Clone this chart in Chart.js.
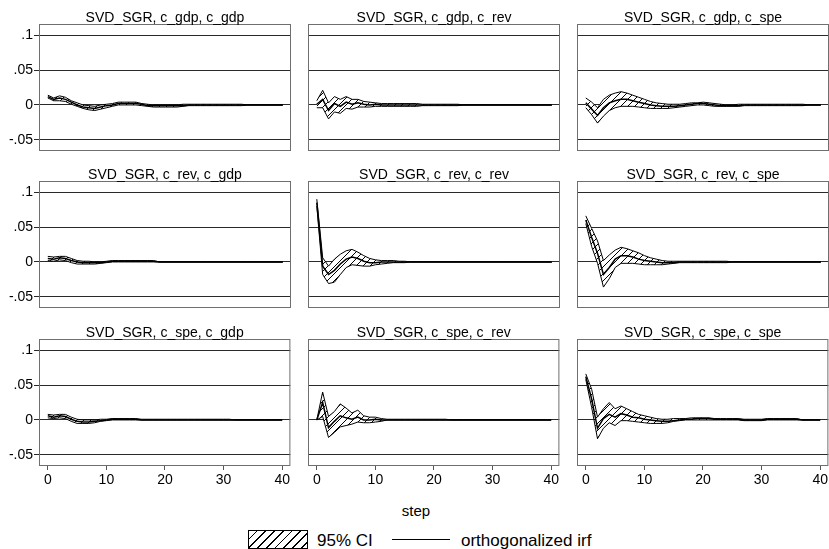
<!DOCTYPE html>
<html>
<head>
<meta charset="utf-8">
<title>SVD_SGR impulse responses</title>
<script src="https://cdn.jsdelivr.net/npm/chart.js@4.4.1/dist/chart.umd.min.js"></script>
<style>
  html, body { margin: 0; padding: 0; background: #fff; }
  body { position: relative; width: 829px; height: 549px; overflow: hidden; font-family: 'Liberation Sans', Arial, sans-serif; color: #000; }
  canvas.panel { position: absolute; }
  .txt { position: absolute; white-space: nowrap; line-height: 1; }
  #stepTitle { left: 416px; top: 503px; font-size: 15px; transform: translateX(-50%); }
  #ciSwatch { position: absolute; left: 248px; top: 530px; width: 58px; height: 17px; border: 1px solid #000;
              background: repeating-linear-gradient(135deg, #fff 0px, #fff 5px, #000 5px, #000 6.2px); }
  #ciLabel { left: 317px; top: 532px; font-size: 17px; }
  #irfLine { position: absolute; left: 392px; top: 539px; width: 58px; border-top: 1.5px solid #000; }
  #irfLabel { left: 461px; top: 532px; font-size: 17px; }
</style>
</head>
<body>
<div id="stepTitle" class="txt">step</div>
<div id="ciSwatch"></div>
<div id="ciLabel" class="txt">95% CI</div>
<div id="irfLine"></div>
<div id="irfLabel" class="txt">orthogonalized irf</div>

<script>
// --- DATA ---
const steps = [0, 1, 2, 3, 4, 5, 6, 7, 8, 9, 10, 11, 12, 13, 14, 15, 16, 17, 18, 19, 20,
               21, 22, 23, 24, 25, 26, 27, 28, 29, 30, 31, 32, 33, 34, 35, 36, 37, 38, 39, 40];
const xTicks = [0, 10, 20, 30, 40];
const yTicks = [-0.05, 0, 0.05, 0.1];
const yTickLabels = ['-.05', '0', '.05', '.1'];
const impulses = ['c_gdp', 'c_rev', 'c_spe'];
const responses = ['c_gdp', 'c_rev', 'c_spe'];

// impulse c_gdp
const irf_gdp_gdp = [0.012, 0.008, 0.010, 0.008, 0.004, 0.000, -0.003, -0.004, -0.005, -0.003,
                     -0.001, 0.000, 0.002, 0.002, 0.002, 0.002, 0.001, -0.001, -0.001, -0.001,
                     -0.001, -0.001, -0.001, -0.001, 0, 0, 0, 0, 0, 0,
                     0, 0, 0, 0, 0, 0, 0, 0, 0, 0, 0];
const lo_gdp_gdp = [0.010, 0.006, 0.006, 0.005, 0.001, -0.002, -0.005, -0.007, -0.008, -0.006,
                    -0.004, -0.002, 0.000, 0.000, 0.000, 0.000, -0.001, -0.002, -0.003, -0.003,
                    -0.003, -0.003, -0.003, -0.002, -0.001, -0.001, -0.001, -0.001, -0.001, -0.001,
                    -0.001, -0.001, -0.001, -0.001, 0, 0, 0, 0, 0, 0, 0];
const hi_gdp_gdp = [0.014, 0.010, 0.013, 0.011, 0.006, 0.003, 0.000, -0.001, -0.002, 0.000,
                    0.001, 0.002, 0.004, 0.004, 0.004, 0.004, 0.002, 0.001, 0.000, 0.000,
                    0.000, 0.000, 0.000, 0.001, 0.001, 0.001, 0.001, 0.001, 0.001, 0.001,
                    0.001, 0.001, 0.001, 0.001, 0, 0, 0, 0, 0, 0, 0];

const irf_gdp_rev = [0.001, 0.008, -0.008, 0.002, -0.002, 0.004, 0.001, 0.003, 0.001, 0.000,
                     0.001, 0, 0, 0, 0, 0, 0, 0, 0, 0,
                     0, 0, 0, 0, 0, 0, 0, 0, 0, 0,
                     0, 0, 0, 0, 0, 0, 0, 0, 0, 0, 0];
const lo_gdp_rev = [-0.004, -0.004, -0.020, -0.010, -0.012, -0.005, -0.006, -0.003, -0.003, -0.003,
                    -0.002, -0.002, -0.002, -0.002, -0.002, -0.002, -0.002, -0.002, -0.001, -0.001,
                    -0.001, -0.001, -0.001, -0.001, -0.001, 0, 0, 0, 0, 0,
                    0, 0, 0, 0, 0, 0, 0, 0, 0, 0, 0];
const hi_gdp_rev = [0.006, 0.021, 0.003, 0.012, 0.008, 0.012, 0.008, 0.008, 0.005, 0.004,
                    0.003, 0.002, 0.002, 0.002, 0.002, 0.002, 0.002, 0.002, 0.001, 0.001,
                    0.001, 0.001, 0.001, 0.001, 0.001, 0, 0, 0, 0, 0,
                    0, 0, 0, 0, 0, 0, 0, 0, 0, 0, 0];

const irf_gdp_spe = [0.003, -0.006, -0.015, -0.004, 0.003, 0.006, 0.008, 0.008, 0.006, 0.004,
                     0.002, 0.000, -0.001, -0.002, -0.002, -0.002, -0.001, 0.000, 0.001, 0.002,
                     0.002, 0.001, 0.000, -0.001, -0.001, -0.001, -0.001, 0, 0, 0,
                     0, 0, 0, 0, 0, 0, 0, 0, 0, 0, 0];
const lo_gdp_spe = [-0.004, -0.014, -0.026, -0.016, -0.008, -0.004, -0.002, -0.002, -0.002, -0.003,
                    -0.004, -0.005, -0.005, -0.005, -0.005, -0.004, -0.003, -0.002, -0.001, 0.000,
                    0.000, -0.001, -0.002, -0.002, -0.002, -0.002, -0.002, -0.001, -0.001, -0.001,
                    -0.001, -0.001, -0.001, -0.001, -0.001, -0.001, -0.001, -0.001, 0, 0, 0];
const hi_gdp_spe = [0.010, 0.004, -0.004, 0.008, 0.014, 0.017, 0.019, 0.017, 0.014, 0.011,
                    0.008, 0.005, 0.003, 0.002, 0.001, 0.001, 0.001, 0.002, 0.003, 0.003,
                    0.004, 0.003, 0.002, 0.001, 0.000, 0.000, 0.001, 0.001, 0.001, 0.001,
                    0.001, 0.001, 0.001, 0.001, 0.001, 0.001, 0.001, 0.001, 0, 0, 0];

// impulse c_rev
const irf_rev_gdp = [0.005, 0.004, 0.006, 0.005, 0.002, 0.000, -0.001, -0.001, -0.001, -0.001,
                     0.000, 0.001, 0.001, 0.001, 0.001, 0.001, 0.001, 0.001, 0.001, 0,
                     0, 0, 0, 0, 0, 0, 0, 0, 0, 0,
                     0, 0, 0, 0, 0, 0, 0, 0, 0, 0, 0];
const lo_rev_gdp = [0.002, 0.001, 0.003, 0.002, -0.001, -0.003, -0.003, -0.003, -0.003, -0.002,
                    -0.001, 0.000, 0.000, 0.000, 0.000, 0.000, 0.000, 0.000, 0.000, 0,
                    0, 0, 0, 0, 0, 0, 0, 0, 0, 0,
                    0, 0, 0, 0, 0, 0, 0, 0, 0, 0, 0];
const hi_rev_gdp = [0.008, 0.007, 0.008, 0.008, 0.005, 0.002, 0.001, 0.001, 0.000, 0.000,
                    0.001, 0.002, 0.002, 0.002, 0.002, 0.002, 0.002, 0.002, 0.002, 0,
                    0, 0, 0, 0, 0, 0, 0, 0, 0, 0,
                    0, 0, 0, 0, 0, 0, 0, 0, 0, 0, 0];

const irf_rev_rev = [0.085, -0.006, -0.018, -0.012, -0.003, 0.004, 0.007, 0.005, 0.001, -0.001,
                     -0.001, 0, 0, 0, 0, 0, 0, 0, 0, 0,
                     0, 0, 0, 0, 0, 0, 0, 0, 0, 0,
                     0, 0, 0, 0, 0, 0, 0, 0, 0, 0, 0];
const lo_rev_rev = [0.080, -0.018, -0.031, -0.029, -0.018, -0.008, -0.004, -0.005, -0.006, -0.006,
                    -0.004, -0.003, -0.002, -0.001, -0.001, -0.001, 0, 0, 0, 0,
                    0, 0, 0, 0, 0, 0, 0, 0, 0, 0,
                    0, 0, 0, 0, 0, 0, 0, 0, 0, 0, 0];
const hi_rev_rev = [0.090, 0.006, -0.006, 0.004, 0.011, 0.016, 0.018, 0.014, 0.009, 0.005,
                    0.003, 0.002, 0.002, 0.002, 0.001, 0.001, 0, 0, 0, 0,
                    0, 0, 0, 0, 0, 0, 0, 0, 0, 0,
                    0, 0, 0, 0, 0, 0, 0, 0, 0, 0, 0];

const irf_rev_spe = [0.060, 0.035, 0.012, -0.018, -0.008, 0.004, 0.009, 0.009, 0.007, 0.004,
                     0.002, 0.001, 0.000, -0.001, -0.001, -0.001, 0, 0, 0, 0,
                     0, 0, 0, 0, 0, 0, 0, 0, 0, 0,
                     0, 0, 0, 0, 0, 0, 0, 0, 0, 0, 0];
const lo_rev_spe = [0.055, 0.022, -0.002, -0.036, -0.024, -0.008, -0.002, -0.002, -0.002, -0.003,
                    -0.004, -0.004, -0.004, -0.004, -0.003, -0.002, -0.001, -0.001, -0.001, -0.001,
                    -0.001, -0.001, -0.001, -0.001, -0.001, 0, 0, 0, 0, 0,
                    0, 0, 0, 0, 0, 0, 0, 0, 0, 0, 0];
const hi_rev_spe = [0.066, 0.048, 0.030, 0.002, 0.010, 0.017, 0.021, 0.019, 0.016, 0.013,
                    0.009, 0.006, 0.004, 0.002, 0.001, 0.001, 0.001, 0.001, 0.001, 0.001,
                    0.001, 0.001, 0.001, 0.001, 0.001, 0, 0, 0, 0, 0,
                    0, 0, 0, 0, 0, 0, 0, 0, 0, 0, 0];

// impulse c_spe
const irf_spe_gdp = [0.006, 0.004, 0.006, 0.005, 0.001, -0.002, -0.003, -0.003, -0.002, -0.001,
                     0.000, 0.001, 0.001, 0.001, 0.001, 0.001, 0, 0, 0, 0,
                     0, 0, 0, 0, 0, 0, 0, 0, 0, 0,
                     0, 0, 0, 0, 0, 0, 0, 0, 0, 0, 0];
const lo_spe_gdp = [0.003, 0.002, 0.003, 0.002, -0.002, -0.005, -0.005, -0.005, -0.004, -0.002,
                    -0.001, 0, 0, 0, 0, 0, 0, 0, 0, 0,
                    0, 0, 0, 0, 0, 0, 0, 0, 0, 0,
                    0, 0, 0, 0, 0, 0, 0, 0, 0, 0, 0];
const hi_spe_gdp = [0.008, 0.007, 0.008, 0.008, 0.004, 0.001, 0.000, 0.000, 0.000, 0.001,
                    0.001, 0.002, 0.002, 0.002, 0.002, 0.002, 0.001, 0.001, 0.001, 0.001,
                    0.001, 0.001, 0.001, 0.001, 0.001, 0.001, 0.001, 0.001, 0.001, 0.001,
                    0.001, 0.001, 0, 0, 0, 0, 0, 0, 0, 0, 0];

const irf_spe_rev = [0, 0.025, -0.011, -0.002, 0.006, 0.003, 0.001, 0.004, 0.000, 0.000,
                     0.001, 0, 0, 0, 0, 0, 0, 0, 0, 0,
                     0, 0, 0, 0, 0, 0, 0, 0, 0, 0,
                     0, 0, 0, 0, 0, 0, 0, 0, 0, 0, 0];
const lo_spe_rev = [0, 0.005, -0.025, -0.018, -0.010, -0.008, -0.006, -0.003, -0.004, -0.004,
                    -0.003, -0.002, 0, 0, 0, 0, 0, 0, 0, 0,
                    0, 0, 0, 0, 0, 0, 0, 0, 0, 0,
                    0, 0, 0, 0, 0, 0, 0, 0, 0, 0, 0];
const hi_spe_rev = [0, 0.040, 0.005, 0.012, 0.023, 0.017, 0.010, 0.014, 0.006, 0.004,
                    0.004, 0.002, 0.001, 0.001, 0.001, 0.001, 0.001, 0.001, 0.001, 0.001,
                    0.001, 0.001, 0.001, 0, 0, 0, 0, 0, 0, 0,
                    0, 0, 0, 0, 0, 0, 0, 0, 0, 0, 0];

const irf_spe_spe = [0.062, 0.030, -0.012, 0.002, 0.008, 0.004, 0.009, 0.007, 0.004, 0.003,
                     0.001, 0.000, -0.001, -0.002, -0.002, -0.001, 0.000, 0.001, 0.001, 0.002,
                     0.002, 0.002, 0.001, 0.001, 0.001, 0.001, 0.001, 0, 0, 0,
                     0, 0.001, 0.001, 0.001, 0.001, 0.001, 0.001, 0, 0, 0, 0];
const lo_spe_spe = [0.058, 0.018, -0.027, -0.012, -0.004, -0.008, -0.001, -0.001, -0.002, -0.003,
                    -0.004, -0.005, -0.005, -0.005, -0.004, -0.002, -0.001, 0, 0, 0,
                    0, 0, 0, 0, 0, 0, 0, -0.001, -0.001, -0.001,
                    -0.001, 0, 0, 0, 0, 0, 0, 0, 0, 0, 0];
const hi_spe_spe = [0.066, 0.044, 0.004, 0.016, 0.025, 0.016, 0.020, 0.016, 0.012, 0.008,
                    0.006, 0.004, 0.002, 0.001, 0.001, 0.002, 0.002, 0.002, 0.003, 0.003,
                    0.003, 0.003, 0.002, 0.002, 0.002, 0.002, 0.002, 0.001, 0.001, 0.001,
                    0.001, 0.002, 0.002, 0.002, 0.002, 0.002, 0.002, 0, 0, 0, 0];

// rows = impulse, columns = response
const panelSeries = [
    [[irf_gdp_gdp, lo_gdp_gdp, hi_gdp_gdp], [irf_gdp_rev, lo_gdp_rev, hi_gdp_rev], [irf_gdp_spe, lo_gdp_spe, hi_gdp_spe]],
    [[irf_rev_gdp, lo_rev_gdp, hi_rev_gdp], [irf_rev_rev, lo_rev_rev, hi_rev_rev], [irf_rev_spe, lo_rev_spe, hi_rev_spe]],
    [[irf_spe_gdp, lo_spe_gdp, hi_spe_gdp], [irf_spe_rev, lo_spe_rev, hi_spe_rev], [irf_spe_spe, lo_spe_spe, hi_spe_spe]]
];

// --- LAYOUT ---
const FONT = "'Liberation Sans', Arial, sans-serif";
const PLOT_LEFTS = [39, 308, 577];
const PLOT_TOPS = [24, 181, 339];
const PLOT_W = 252;
const PLOT_H = 127;
const AXIS_W = 39;     // room for y tick labels
const TITLE_H = 24;    // room for panel title
const XAXIS_H = 29;    // room for x tick labels

// diagonal hatch used for the confidence band
function makeHatch() {
    const size = 7;
    const c = document.createElement('canvas');
    c.width = size; c.height = size;
    const g = c.getContext('2d');
    g.fillStyle = '#fff';
    g.fillRect(0, 0, size, size);
    g.strokeStyle = '#000';
    g.lineWidth = 1;
    g.beginPath();
    g.moveTo(0, size); g.lineTo(size, 0);
    g.moveTo(-1, 1); g.lineTo(1, -1);
    g.moveTo(size - 1, size + 1); g.lineTo(size + 1, size - 1);
    g.stroke();
    return g.createPattern(c, 'repeat');
}

// plot region outline + panel heading
const panelFrame = {
    id: 'panelFrame',
    afterDatasetsDraw(chart) {
        const { ctx, chartArea: a } = chart;
        ctx.save();
        ctx.strokeStyle = '#6f6f6f';
        ctx.lineWidth = 1;
        ctx.strokeRect(a.left + 0.5, a.top + 0.5, a.right - a.left - 1, a.bottom - a.top - 1);
        ctx.restore();
    },
    afterDraw(chart, args, opts) {
        const { ctx, chartArea: a } = chart;
        ctx.save();
        ctx.font = `14px ${FONT}`;
        ctx.fillStyle = '#000';
        ctx.textAlign = 'center';
        ctx.textBaseline = 'alphabetic';
        ctx.fillText(opts.text, (a.left + a.right) / 2, a.top - 2);
        ctx.restore();
    }
};

const toPoints = arr => steps.map((s, i) => ({ x: s, y: arr[i] }));

function buildPanel(row, col, hatch) {
    const [irf, lo, hi] = panelSeries[row][col];
    const canvas = document.createElement('canvas');
    canvas.className = 'panel';
    const w = AXIS_W + PLOT_W + 1;
    const h = TITLE_H + PLOT_H + XAXIS_H + 1;
    canvas.width = w; canvas.height = h;
    canvas.style.width = w + 'px';
    canvas.style.height = h + 'px';
    canvas.style.left = (PLOT_LEFTS[col] - AXIS_W) + 'px';
    canvas.style.top = (PLOT_TOPS[row] - TITLE_H) + 'px';
    document.body.appendChild(canvas);

    const showY = col === 0;
    const showX = row === 2;

    return new Chart(canvas.getContext('2d'), {
        type: 'line',
        data: {
            datasets: [
                { data: toPoints(lo), borderColor: '#000', borderWidth: 1, pointRadius: 0, fill: false, order: 2 },
                { data: toPoints(hi), borderColor: '#000', borderWidth: 1, pointRadius: 0, fill: '-1', backgroundColor: hatch, order: 1 },
                { data: toPoints(irf), borderColor: '#000', borderWidth: 1.5, pointRadius: 0, fill: false, order: 0 }
            ]
        },
        options: {
            responsive: false,
            animation: false,
            events: [],
            devicePixelRatio: 1,
            layout: { padding: { top: TITLE_H, right: 1, bottom: 1, left: 0 } },
            elements: { line: { tension: 0 } },
            scales: {
                x: {
                    type: 'linear', min: -1.5, max: 41.4,
                    afterBuildTicks: s => { s.ticks = xTicks.map(v => ({ value: v })); },
                    afterFit: s => { s.height = XAXIS_H; },
                    border: { display: false },
                    grid: { display: showX, drawOnChartArea: false, drawTicks: true, tickLength: 4, color: '#555' },
                    ticks: { display: showX, autoSkip: false, maxRotation: 0, padding: 2, color: '#000', font: { family: FONT, size: 14 } }
                },
                y: {
                    type: 'linear', min: -0.066, max: 0.116,
                    afterBuildTicks: s => { s.ticks = yTicks.map(v => ({ value: v })); },
                    afterFit: s => { s.width = AXIS_W; },
                    border: { display: false },
                    grid: { color: '#2a2a2a', lineWidth: 1, drawTicks: showY, tickLength: 5 },
                    ticks: { display: showY, padding: 1, color: '#000', font: { family: FONT, size: 14 },
                             callback: (v, i) => yTickLabels[i] }
                }
            },
            plugins: {
                legend: { display: false },
                tooltip: { enabled: false },
                filler: { propagate: false, drawTime: 'beforeDatasetsDraw' },
                panelFrame: { text: `SVD_SGR, ${impulses[row]}, ${responses[col]}` }
            }
        },
        plugins: [panelFrame]
    });
}

document.addEventListener('DOMContentLoaded', () => {
    const hatch = makeHatch();
    for (let r = 0; r < 3; r++) {
        for (let c = 0; c < 3; c++) buildPanel(r, c, hatch);
    }
});
</script>
</body>
</html>
